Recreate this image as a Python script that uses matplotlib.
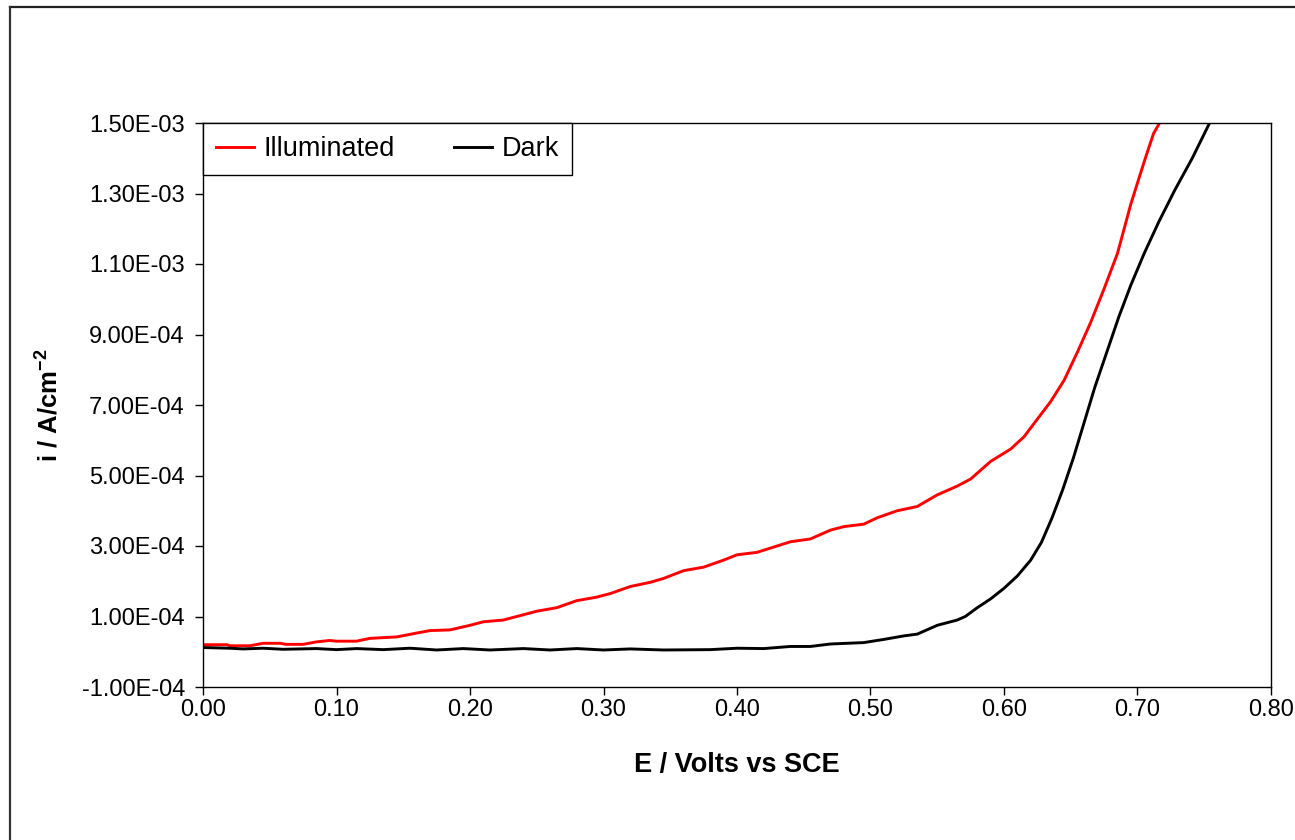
import numpy as np
import matplotlib
matplotlib.use('Agg')
import matplotlib.pyplot as plt
from matplotlib.lines import Line2D

plt.rcParams['font.family'] = ['Liberation Sans', 'DejaVu Sans']
plt.rcParams['mathtext.fontset'] = 'custom'
plt.rcParams['mathtext.rm'] = 'Liberation Sans'
plt.rcParams['mathtext.bf'] = 'Liberation Sans:bold'

# photocurrent under illumination (A/cm2) vs potential (V vs SCE)
e_light = [0.000, 0.018, 0.020, 0.035, 0.045, 0.058, 0.062, 0.075, 0.085, 0.095,
           0.100, 0.115, 0.125, 0.145, 0.160, 0.170, 0.185, 0.200, 0.210, 0.225,
           0.240, 0.250, 0.265, 0.280, 0.295, 0.305, 0.320, 0.335, 0.345, 0.360,
           0.375, 0.390, 0.400, 0.415, 0.430, 0.440, 0.455, 0.470, 0.480, 0.495,
           0.505, 0.520, 0.535, 0.550, 0.565, 0.575, 0.590, 0.605, 0.615, 0.625,
           0.635, 0.645, 0.655, 0.665, 0.675, 0.685, 0.695, 0.705, 0.712, 0.718]
i_light = [2.0e-5, 2.0e-5, 1.7e-5, 1.7e-5, 2.4e-5, 2.4e-5, 2.1e-5, 2.1e-5, 2.8e-5, 3.2e-5,
           3.0e-5, 3.0e-5, 3.8e-5, 4.2e-5, 5.3e-5, 6.0e-5, 6.2e-5, 7.5e-5, 8.5e-5, 9.0e-5,
           1.05e-4, 1.15e-4, 1.25e-4, 1.45e-4, 1.55e-4, 1.65e-4, 1.85e-4, 1.97e-4, 2.08e-4, 2.30e-4,
           2.40e-4, 2.60e-4, 2.75e-4, 2.82e-4, 3.00e-4, 3.12e-4, 3.20e-4, 3.45e-4, 3.55e-4, 3.62e-4,
           3.80e-4, 4.00e-4, 4.12e-4, 4.45e-4, 4.70e-4, 4.90e-4, 5.40e-4, 5.75e-4, 6.10e-4, 6.60e-4,
           7.10e-4, 7.70e-4, 8.50e-4, 9.35e-4, 1.03e-3, 1.13e-3, 1.27e-3, 1.39e-3, 1.47e-3, 1.51e-3]

# dark current
e_dark = [0.000, 0.020, 0.030, 0.045, 0.060, 0.085, 0.100, 0.115, 0.135, 0.155,
          0.175, 0.195, 0.215, 0.240, 0.260, 0.280, 0.300, 0.320, 0.345, 0.380,
          0.400, 0.420, 0.440, 0.455, 0.470, 0.495, 0.510, 0.525, 0.535, 0.550,
          0.565, 0.571, 0.580, 0.590, 0.600, 0.610, 0.620, 0.628, 0.636, 0.644,
          0.652, 0.660, 0.668, 0.677, 0.686, 0.695, 0.705, 0.716, 0.728, 0.741, 0.754, 0.757]
i_dark = [1.2e-5, 1.0e-5, 0.8e-5, 1.0e-5, 0.7e-5, 0.9e-5, 0.6e-5, 0.9e-5, 0.6e-5, 1.0e-5,
          0.5e-5, 0.9e-5, 0.5e-5, 0.9e-5, 0.5e-5, 0.9e-5, 0.5e-5, 0.8e-5, 0.5e-5, 0.6e-5,
          1.0e-5, 0.9e-5, 1.5e-5, 1.5e-5, 2.2e-5, 2.6e-5, 3.5e-5, 4.5e-5, 5.0e-5, 7.5e-5,
          9.0e-5, 1.0e-4, 1.25e-4, 1.50e-4, 1.80e-4, 2.15e-4, 2.60e-4, 3.10e-4, 3.80e-4, 4.60e-4,
          5.50e-4, 6.50e-4, 7.50e-4, 8.50e-4, 9.50e-4, 1.04e-3, 1.13e-3, 1.22e-3, 1.31e-3, 1.40e-3, 1.50e-3, 1.52e-3]

x_ticks = [0.0, 0.1, 0.2, 0.3, 0.4, 0.5, 0.6, 0.7, 0.8]
y_ticks = [-1e-4, 1e-4, 3e-4, 5e-4, 7e-4, 9e-4, 1.1e-3, 1.3e-3, 1.5e-3]

fig = plt.figure(figsize=(12.95, 8.4), dpi=100)
ax = fig.add_axes([203/1295, 1 - 687/840, (1271-203)/1295, (687-123)/840])

ax.plot(e_light, i_light, color='#ff0000', lw=2.1, label='Illuminated')
ax.plot(e_dark, i_dark, color='black', lw=2.1, label='Dark')

ax.set_xlim(0, 0.8)
ax.set_ylim(-1e-4, 1.5e-3)
ax.set_xticks(x_ticks)
ax.set_xticklabels([f'{v:.2f}' for v in x_ticks])
ax.set_yticks(y_ticks)
ax.set_yticklabels([f'{v:.2E}' for v in y_ticks])
ax.tick_params(axis='both', direction='out', length=6, width=1, labelsize=17)
ax.tick_params(axis='x', pad=3)
ax.tick_params(axis='y', pad=7)
for s in ax.spines.values():
    s.set_linewidth(1)
    s.set_color('black')

ax.set_xlabel('E / Volts vs SCE', fontsize=19.5, fontweight='bold', labelpad=22)
ax.set_ylabel(r'i / A/cm$^{\mathbf{-2}}$', fontsize=18.5, fontweight='bold', labelpad=14)

leg = ax.legend(loc='upper left', bbox_to_anchor=(0, 1), borderaxespad=0, ncol=2,
                fontsize=19.5, fancybox=False, framealpha=1, edgecolor='black',
                handlelength=1.4, handletextpad=0.35, columnspacing=2.2, borderpad=0.48)
leg.get_frame().set_linewidth(1)

# outer chart border (cut off on the right and bottom)
fig.add_artist(Line2D([9.5/1295, 1], [1 - 6.5/840, 1 - 6.5/840], color='#222222', lw=1.6))
fig.add_artist(Line2D([9.5/1295, 9.5/1295], [0, 1 - 6.5/840], color='#333333', lw=1.6))

fig.savefig('out.png', dpi=100)
